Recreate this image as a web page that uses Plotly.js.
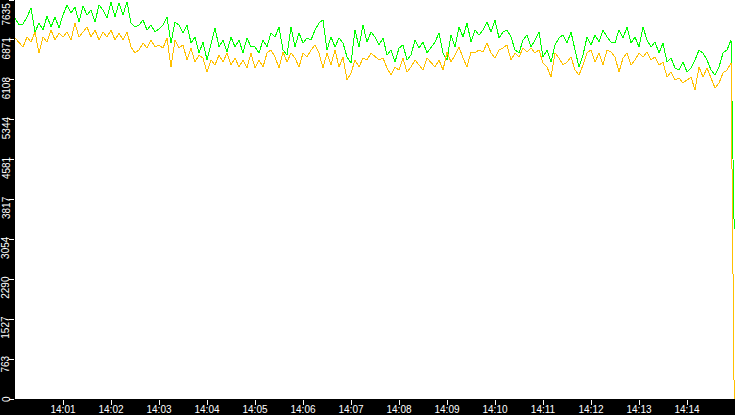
<!DOCTYPE html>
<html>
<head>
<meta charset="utf-8">
<script src="https://cdn.plot.ly/plotly-3.0.1.min.js"></script>
<style>
  html, body { margin: 0; padding: 0; background: #000; }
  #chart { width: 735px; height: 415px; }
  .scatterlayer .js-line { shape-rendering: crispEdges; }
</style>
</head>
<body>
<div id="chart"></div>
<script>
// ---- data ----
const startDay = '2024-01-01';
const startHour = 14;
const stepSeconds = 5;
const finalSecond = 899;

const greenValues = [
  7290,7156,7176,7310,7482,7023,7195,7061,7329,7118,
  7310,7099,7348,7539,7386,7501,7214,7520,7348,7444,
  7214,7539,7444,7290,7597,7310,7577,7348,7597,7195,
  7118,7156,7252,7061,7156,7023,7080,7156,7310,6812,
  7214,7156,7003,7156,6812,6927,6621,6831,6487,6774,
  7099,6736,6869,6640,6927,6736,6869,6621,6908,6736,
  6736,6621,6869,6736,7003,6927,7118,6678,6582,7118,
  6736,7003,6812,6908,6869,7061,7195,7252,6678,6927,
  6736,6908,6812,6544,6429,7061,6736,7156,6831,7023,
  6927,6774,6908,6582,6678,6448,6716,6774,6487,6582,
  6869,6716,6831,6621,6716,6831,7003,6621,6487,6965,
  6736,7118,6927,7195,6831,7061,6965,7061,7214,7023,
  7252,6908,7023,7061,6927,6678,6621,6869,6965,6736,
  6869,7023,6544,6678,6448,6774,6908,6965,6812,7023,
  6678,6353,6582,6927,6774,6965,6831,7061,6927,6831,
  6812,7061,6908,7118,6812,6927,6736,7118,6869,6736,
  6831,6621,6812,6448,6525,6334,6295,6448,6257,6334,
  6487,6678,6621,6487,6295,6200,6353,6621,6678,6869
];
const greenFinal = 3250;

const orangeValues = [
  6908,6812,6736,6927,6831,7023,6621,6927,6831,7061,
  6869,7003,6927,7023,6869,7195,6927,7023,7118,6927,
  7061,6869,7023,6927,7061,6869,7003,6869,7023,6736,
  6621,6678,6812,6716,6869,6736,6774,6716,6908,6353,
  6869,6716,6774,6487,6716,6448,6582,6525,6257,6487,
  6391,6582,6448,6621,6391,6525,6353,6487,6334,6621,
  6334,6487,6353,6621,6678,6544,6334,6640,6448,6621,
  6525,6353,6621,6544,6678,6774,6621,6334,6621,6391,
  6678,6353,6544,6104,6238,6487,6353,6525,6487,6621,
  6544,6487,6525,6334,6200,6353,6295,6525,6257,6353,
  6487,6391,6295,6525,6429,6353,6487,6295,6640,6448,
  6582,6736,6525,6353,6640,6621,6678,6640,6812,6621,
  6525,6678,6716,6774,6487,6621,6544,6716,6640,6716,
  6621,6678,6429,6353,6161,6621,6525,6391,6448,6544,
  6295,6200,6391,6621,6678,6448,6621,6391,6678,6640,
  6544,6257,6525,6621,6391,6487,6621,6544,6640,6487,
  6544,6391,6448,6161,6257,6104,6142,6047,6104,6161,
  5913,6353,6161,6334,6142,5951,6047,6238,6295,6429
];
const orangeFinal = 0;

const xTickLabels = ['14:01','14:02','14:03','14:04','14:05','14:06','14:07',
                     '14:08','14:09','14:10','14:11','14:12','14:13','14:14'];
const yMax = 7635;
const yTickValues = [0, 763.5, 1527, 2290.5, 3054, 3817.5, 4581, 5344.5, 6108, 6871.5, 7635];
const yTickLabels = ['0','763','1527','2290','3054','3817','4581','5344','6108','6871','7635'];

// ---- helpers ----
function pad(n) { return (n < 10 ? '0' : '') + n; }
function stamp(sec) {
  const h = startHour + Math.floor(sec / 3600);
  const m = Math.floor((sec % 3600) / 60);
  const s = sec % 60;
  return startDay + ' ' + pad(h) + ':' + pad(m) + ':' + pad(s);
}
function times(n) {
  const t = [];
  for (let i = 0; i < n; i++) t.push(stamp(i * stepSeconds));
  t.push(stamp(finalSecond));
  return t;
}

const traces = [
  { x: times(greenValues.length), y: greenValues.concat([greenFinal]), type: 'scatter', mode: 'lines',
    name: 'green', line: { color: '#00ff00', width: 1 }, hoverinfo: 'skip' },
  { x: times(orangeValues.length), y: orangeValues.concat([orangeFinal]), type: 'scatter', mode: 'lines',
    name: 'orange', line: { color: '#ffc000', width: 1 }, hoverinfo: 'skip' }
];

const tickFont = { family: 'Liberation Sans, Arial, sans-serif', size: 10, color: '#ffffff' };

// y tick labels: rotated text that hangs below its tick
const yLabelAnnotations = yTickValues.map(function (v, i) {
  return {
    xref: 'paper', yref: 'y', x: 0, y: v,
    xanchor: 'center', yanchor: 'top',
    xshift: -9, yshift: (v === yMax ? -1 : 5),
    text: yTickLabels[i], textangle: -90, showarrow: false,
    font: tickFont, borderpad: 1
  };
});

const layout = {
  width: 735, height: 415,
  paper_bgcolor: '#000000', plot_bgcolor: '#ffffff',
  margin: { l: 15, r: 0, t: 0, b: 16, pad: 0 },
  showlegend: false,
  xaxis: {
    type: 'date',
    range: [stamp(0), stamp(900)],
    tickvals: xTickLabels.map(function (l) { return startDay + ' ' + l + ':00'; }),
    ticktext: xTickLabels,
    ticks: 'outside', ticklen: 5, tickwidth: 1, tickcolor: '#ffffff',
    ticklabelstandoff: -4,
    showgrid: false, zeroline: false, showline: false, automargin: false,
    tickfont: tickFont, fixedrange: true
  },
  yaxis: {
    range: [0, yMax],
    tickvals: yTickValues,
    ticks: 'outside', ticklen: 5, tickwidth: 1, tickcolor: '#ffffff',
    showticklabels: false,
    showgrid: false, zeroline: false, showline: false, automargin: false,
    fixedrange: true
  },
  annotations: yLabelAnnotations
};

Plotly.newPlot('chart', traces, layout, { displayModeBar: false, staticPlot: true });
</script>
</body>
</html>
